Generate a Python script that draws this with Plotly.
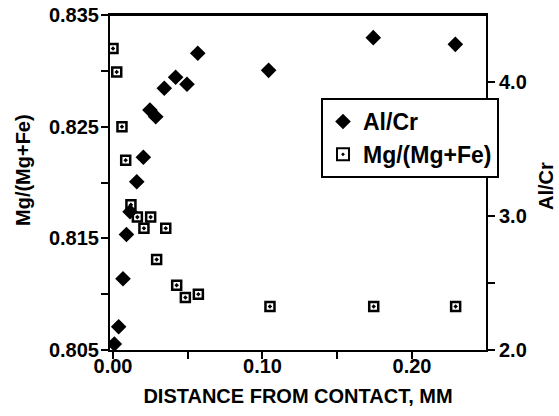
import plotly.graph_objects as go

# Al/Cr (right axis), filled diamonds
alcr_x = [0.0009, 0.0038, 0.0067, 0.0090, 0.0114, 0.0159, 0.0203, 0.0247, 0.0286,
          0.0343, 0.0419, 0.0495, 0.0567, 0.1041, 0.1741, 0.2290]
alcr_y = [2.045, 2.174, 2.532, 2.862, 3.032, 3.256, 3.438, 3.791, 3.741,
          3.953, 4.035, 3.983, 4.214, 4.087, 4.331, 4.281]

# Mg/(Mg+Fe) (left axis), open squares with dot
mg_x = [0.0000, 0.0025, 0.0060, 0.0085, 0.0120, 0.0163, 0.0252, 0.0207, 0.0353,
        0.0292, 0.0426, 0.0484, 0.0571, 0.1050, 0.1744, 0.2292]
mg_y = [0.8320, 0.8299, 0.8250, 0.8220, 0.8180, 0.8169, 0.8169, 0.8159, 0.8159,
        0.8131, 0.8108, 0.8097, 0.8100, 0.8089, 0.8089, 0.8089]

x_ticks = [0.0, 0.05, 0.10, 0.15, 0.20]
x_labels = ["0.00", "", "0.10", "", "0.20"]
yl_ticks = [0.805, 0.810, 0.815, 0.820, 0.825, 0.830, 0.835]
yl_labels = ["0.805", "", "0.815", "", "0.825", "", "0.835"]
yr_ticks = [2.0, 2.5, 3.0, 3.5, 4.0]
yr_labels = ["2.0", "", "3.0", "", "4.0"]

FONT = "Liberation Sans, Arial, sans-serif"

# plot area in page pixels
W, H = 559, 416
PL, PR, PT, PB = 110, 486, 15, 350


def px(sx):
    return (sx - PL) / (PR - PL)


def py(sy):
    return 1 - (sy - PT) / (PB - PT)


fig = go.Figure()
fig.add_trace(go.Scatter(
    x=alcr_x, y=alcr_y, mode="markers", name="Al/Cr", yaxis="y2",
    marker=dict(symbol="diamond", size=12, color="black"),
))
fig.add_trace(go.Scatter(
    x=mg_x, y=mg_y, mode="markers", name="Mg/(Mg+Fe)", yaxis="y",
    marker=dict(symbol="square-open-dot", size=9, color="black",
                line=dict(width=2.5, color="black")),
))

axis_common = dict(
    showgrid=False, zeroline=False, showline=True, linecolor="black", linewidth=2,
    ticks="outside", ticklen=7, tickwidth=2, tickcolor="black",
    ticklabeloverflow="allow",
    tickfont=dict(family=FONT, size=20, color="black", weight="bold"),
)

fig.update_layout(
    width=W, height=H,
    margin=dict(l=PL, r=W - PR, t=PT, b=H - PB, autoexpand=False),
    paper_bgcolor="white", plot_bgcolor="white",
    showlegend=True,
    legend=dict(
        x=px(321), y=py(98), xanchor="left", yanchor="top",
        bordercolor="black", borderwidth=2, bgcolor="white",
        font=dict(family=FONT, size=23, color="black", weight="bold"),
        itemsizing="constant",
    ),
    xaxis=dict(
        range=[-0.002, 0.2495], tickvals=x_ticks, ticktext=x_labels, mirror=True,
        ticklabelstandoff=-10,
        title=dict(text="DISTANCE FROM CONTACT, MM", standoff=13,
                   font=dict(family=FONT, size=20, color="black", weight="bold")),
        **axis_common,
    ),
    yaxis=dict(
        range=[0.805, 0.835], tickvals=yl_ticks, ticktext=yl_labels,
        ticklabelstandoff=-2, **axis_common,
    ),
    yaxis2=dict(
        range=[2.0, 4.5], tickvals=yr_ticks, ticktext=yr_labels, overlaying="y",
        side="right", **axis_common,
    ),
    shapes=[
        dict(type="line", xref="paper", yref="paper", x0=0, x1=1, y0=1, y1=1,
             line=dict(color="black", width=2)),
    ],
    annotations=[
        dict(text="Mg/(Mg+Fe)", xref="paper", yref="paper",
             x=px(23), y=py(170), textangle=-90,
             showarrow=False, xanchor="center", yanchor="middle",
             font=dict(family=FONT, size=20, color="black", weight="bold")),
        dict(text="Al/Cr", xref="paper", yref="paper",
             x=px(546), y=py(186), textangle=-90,
             showarrow=False, xanchor="center", yanchor="middle",
             font=dict(family=FONT, size=20, color="black", weight="bold")),
    ],
)

fig.write_html(
    "out.html",
    config={"displayModeBar": False},
    post_script="document.body.style.margin='0';document.body.style.overflow='hidden';",
)
